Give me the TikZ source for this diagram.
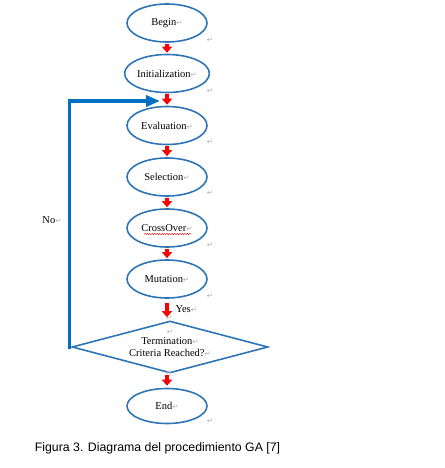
\documentclass[tikz,border=0pt]{standalone}
\usepackage{fontspec}
\setmainfont{Liberation Serif}
\newfontfamily\capfont{Liberation Sans}
\newfontfamily\symfont{DejaVu Sans}
\usetikzlibrary{shapes.geometric,arrows.meta,decorations.pathmorphing}
\definecolor{wordblue}{RGB}{46,117,182}
\definecolor{loopblue}{RGB}{0,112,192}
\newcommand{\ret}{{\symfont\fontsize{7.5}{7.5}\selectfont\color{gray!60}↵}}

\begin{document}
\begin{tikzpicture}[%
      x=1pt, y=-1pt,
      stage/.style={draw=wordblue, line width=1.6pt, ellipse, minimum width=80pt, minimum height=38pt, inner sep=0pt, font=\fontsize{10.5}{12}\selectfont},
      check/.style={draw=wordblue, line width=1.6pt, diamond, aspect=3.8, minimum width=196pt, minimum height=52pt, inner sep=0pt, align=center, font=\fontsize{10.5}{11.5}\selectfont},
      flow/.style={draw=red, line width=4pt, -{Triangle[length=6pt,width=10pt]}},
      back/.style={draw=loopblue, line width=3.5pt, -{Triangle[length=14pt,width=11pt]}},
      retmark/.style={inner sep=0pt},
      ]
      \useasboundingbox (0,0) rectangle (444,468);

      \node [stage] (begin) at (167,23) {Begin\ret};
      \node [stage] (init) at (167,73.5) {Initialization\ret};
      \node [stage] (eval) at (167,125.5) {Evaluation\ret};
      \node [stage] (sel) at (167,177) {Selection\ret};
      \node [stage] (cross) at (167,228) {CrossOver\ret};
      \node [stage] (mut) at (167,279) {Mutation\ret};
      \node [check] (term) at (170,347) {Termination\ret\\Criteria Reached?\ret};
      \node [stage, minimum height=35pt] (end) at (167,406) {End\ret};

      \draw [flow, shorten <=1pt, shorten >=1pt] (begin) -- (init);
      \draw [flow, shorten <=1pt, shorten >=1pt] (init) -- (eval);
      \draw [flow, shorten <=1pt, shorten >=1pt] (eval) -- (sel);
      \draw [flow, shorten <=1pt, shorten >=1pt] (sel) -- (cross);
      \draw [flow, shorten <=1pt, shorten >=1pt] (cross) -- (mut);
      \draw [flow, shorten <=4pt, shorten >=3pt] (mut.south) -- (term.north -| mut.south);
      \draw [flow, shorten <=1pt, shorten >=2pt] (term.south -| end.north) -- (end.north);

      \coordinate (corner) at (69.5,101);
      \coordinate (looptip) at (160,101);
      \draw [back] (term.west) -| (corner) -- (looptip);

      \draw [red, line width=0.4pt, decorate, decoration={snake, amplitude=0.7pt, segment length=2.5pt}] ([xshift=-23pt,yshift=-6pt]cross.center) -- ([xshift=24pt,yshift=-6pt]cross.center);

      \node (no) at (52,220) {\fontsize{10.5}{12}\selectfont No\ret};
      \node [anchor=west] (yes) at (172,309) {\fontsize{10.5}{12}\selectfont Yes\ret};

      \node [retmark] (retbegin) at (210,40) {\ret};
      \node [retmark] (retinit) at (210,91) {\ret};
      \node [retmark] (reteval) at (210,142) {\ret};
      \node [retmark] (retsel) at (210,193) {\ret};
      \node [retmark] (retcross) at (210,245) {\ret};
      \node [retmark] (retmut) at (210,296) {\ret};
      \node [retmark] (rettop) at (169,318) {\ret};
      \node [retmark] (retterm) at (170,332) {\ret};
      \node [retmark] (retbot) at (169,373) {\ret};
      \node [retmark] (retend) at (210,421) {\ret};

      \node (caption) at (157.5,448) {\capfont\fontsize{12.3}{14}\selectfont Figura 3. Diagrama del procedimiento GA [7]};
      \end{tikzpicture}
\end{document}
